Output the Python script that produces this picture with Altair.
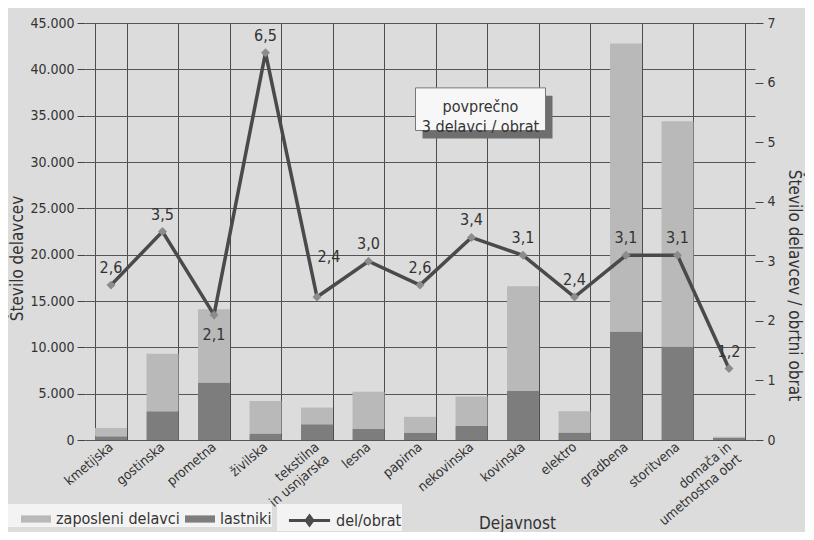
import altair as alt
import pandas as pd

# ---- data ----
categories = ["kmetijska", "gostinska", "prometna", "živilska", "tekstilna\nin usnjarska",
              "lesna", "papirna", "nekovinska", "kovinska", "elektro", "gradbena",
              "storitvena", "domača in\numetnostna obrt"]
zaposleni = [900, 6200, 7900, 3500, 1800, 4000, 1700, 3200, 11300, 2300, 31100, 24300, 100]
lastniki = [400, 3100, 6200, 700, 1700, 1200, 800, 1500, 5300, 800, 11700, 10100, 250]
del_obrat = [2.6, 3.5, 2.1, 6.5, 2.4, 3.0, 2.6, 3.4, 3.1, 2.4, 3.1, 3.1, 1.2]
series_names = ["zaposleni delavci", "lastniki"]
line_name = "del/obrat"
left_ticks = list(range(0, 45001, 5000))
right_ticks = list(range(0, 8))
note_lines = ["povprečno", "3 delavci / obrat"]
note_category = "nekovinska"
note_top = 38000
note_bottom = 33400

FONT = "Liberation Sans Narrow, DejaVu Sans Condensed, Liberation Sans, sans-serif"

rows = []
for i, c in enumerate(categories):
    rows.append({"cat": c, "series": series_names[1], "val": lastniki[i], "ord": 0})
    rows.append({"cat": c, "series": series_names[0], "val": zaposleni[i], "ord": 1})
bar_df = pd.DataFrame(rows)

line_df = pd.DataFrame({"cat": categories, "r": del_obrat, "i": list(range(len(categories))),
                        "s": [line_name] * len(categories)})

note_df = pd.DataFrame({"cat": [note_category], "top": [note_top], "bottom": [note_bottom],
                        "mid": [(note_top + note_bottom) / 2], "txt": [note_lines]})

x_axis = alt.Axis(title="Dejavnost", labelAngle=-40, labelAlign="right",
                  labelBaseline="middle",
                  labelExpr="split(datum.label, '\\n')",
                  tickBand="extent", grid=True, gridColor="#4d4d4d",
                  gridOpacity=1, ticks=False, domain=False,
                  labelFontSize=13.5, labelColor="#333", labelPadding=5,
                  titleX=432, titleY=83, titleBaseline="middle", titleFontSize=17,
                  titleFontWeight="normal", titleColor="#333")
x_scale = alt.Scale(paddingInner=0.38, paddingOuter=0.195)


def xenc():
    return alt.X("cat:N", sort=categories, scale=x_scale, axis=x_axis)


left_scale = alt.Scale(domain=[0, 45000], nice=False)
left_axis = alt.Axis(title="Število delavcev", values=left_ticks,
                     labelExpr="replace(format(datum.value, ',d'), ',', '.')",
                     grid=True, gridColor="#555", gridOpacity=1, domain=False,
                     tickSize=8, tickColor="#444", labelFontSize=14,
                     labelColor="#333", labelPadding=3, titleFontSize=17,
                     titleFontWeight="normal", titleColor="#333", titlePadding=3,
                     titleY=235)

right_scale = alt.Scale(domain=[0, 7], nice=False)
right_axis = alt.Axis(orient="right", values=right_ticks,
                      title="Število delavcev / obrtni obrat", grid=False,
                      domain=False, tickSize=8, tickColor="#444",
                      labelFontSize=14, labelColor="#333", labelPadding=4,
                      titleFontSize=17, titleFontWeight="normal",
                      titleColor="#333", titlePadding=9, titleY=262)

legend_common = dict(orient="none", legendY=481, direction="horizontal",
                     title=" ", titleOrient="left", titleFontSize=4,
                     symbolSize=900, labelFontSize=16, labelColor="#333",
                     fillColor="#f3f3f3", padding=0, labelFont=FONT,
                     labelExpr="datum.label + ' '")

bars = alt.Chart(bar_df).mark_bar().encode(
    x=xenc(),
    y=alt.Y("val:Q", stack="zero", scale=left_scale, axis=left_axis),
    color=alt.Color("series:N", scale=alt.Scale(domain=series_names, range=["#b9b9b9", "#7d7d7d"]),
                    legend=alt.Legend(legendX=-85, titlePadding=21,
                                      symbolType="M-1,-0.24H1V0.24H-1Z",
                                      symbolStrokeWidth=0, columnPadding=5,
                                      labelOffset=5, **legend_common)),
    order=alt.Order("ord:Q"),
)

note_shadow = alt.Chart(note_df).mark_bar(width=130, color="#6e6e6e", xOffset=16,
                                          yOffset=8, y2Offset=8).encode(
    x=xenc(), y=alt.Y("top:Q", scale=left_scale, axis=left_axis), y2="bottom:Q")
note_box = alt.Chart(note_df).mark_bar(width=130, color="#f7f7f7", stroke="#777",
                                       strokeWidth=1, xOffset=9).encode(
    x=xenc(), y=alt.Y("top:Q", scale=left_scale, axis=left_axis), y2="bottom:Q")
note_text = alt.Chart(note_df).mark_text(fontSize=16, lineHeight=20, font=FONT, color="#333",
                                         baseline="middle", xOffset=9, yOffset=-2).encode(
    x=xenc(), y=alt.Y("mid:Q", scale=left_scale, axis=left_axis), text="txt")

left_group = alt.layer(bars, note_shadow, note_box, note_text)


def yr():
    return alt.Y("r:Q", scale=right_scale, axis=right_axis)


line = alt.Chart(line_df).mark_line(strokeWidth=3.5).encode(
    x=xenc(), y=yr(),
    stroke=alt.Stroke("s:N", scale=alt.Scale(domain=[line_name], range=["#4a4a4a"]),
                      legend=alt.Legend(legendX=192, titlePadding=16,
                                        symbolType="M-1.37,0H1.37M0,-0.3L0.22,0L0,0.3L-0.22,0Z",
                                        symbolStrokeWidth=3, labelOffset=10,
                                        **legend_common)))
points = alt.Chart(line_df).mark_point(shape="diamond", filled=True, size=80,
                                       color="#8c8c8c", opacity=1).encode(x=xenc(), y=yr())

lbl_base = alt.Chart(line_df).transform_calculate(
    lbl="replace(format(datum.r, '.1f'), '.', ',')")
labels_std = lbl_base.transform_filter("datum.i != 2 && datum.i != 4").mark_text(
    fontSize=16, font=FONT, color="#333", dy=-17).encode(x=xenc(), y=yr(), text="lbl:N")
labels_below = lbl_base.transform_filter("datum.i == 2").mark_text(
    fontSize=16, font=FONT, color="#333", dy=20).encode(x=xenc(), y=yr(), text="lbl:N")
labels_side = lbl_base.transform_filter("datum.i == 4").mark_text(
    fontSize=16, font=FONT, color="#333", dy=-40, dx=12).encode(x=xenc(), y=yr(), text="lbl:N")

right_group = alt.layer(line, points, labels_std, labels_below, labels_side)

chart = alt.layer(left_group, right_group).resolve_scale(
    y="independent", color="independent", stroke="independent"
).properties(
    width=670, height=417,
    autosize=alt.AutoSizeParams(type="none"),
    padding={"left": 77, "top": 15, "right": 50, "bottom": 92},
    background="#dcdcdc",
).configure_view(fill="#e7e7e7", stroke=None).configure(font=FONT)

chart.save("out.html", embed_options={"renderer": "svg", "actions": False})
